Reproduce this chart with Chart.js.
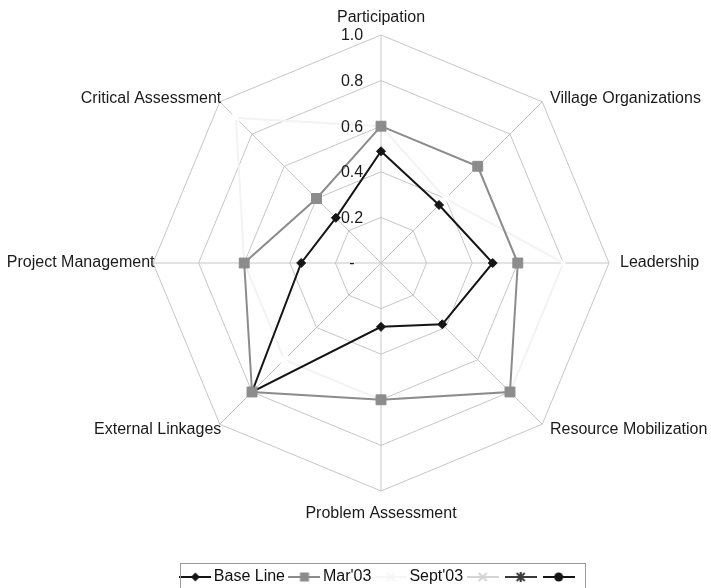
<!DOCTYPE html>
<html>
<head>
<meta charset="utf-8">
<script src="https://cdn.jsdelivr.net/npm/chart.js@4.4.1/dist/chart.umd.min.js"></script>
<style>
  html, body { margin: 0; padding: 0; background: #fff; }
</style>
</head>
<body>
<canvas id="radar" width="711" height="588"></canvas>
<script>
var categories = ["Participation", "Village Organizations", "Leadership", "Resource Mobilization",
  "Problem Assessment", "External Linkages", "Project Management", "Critical Assessment"];
var baseLine = [0.49, 0.36, 0.49, 0.38, 0.28, 0.80, 0.35, 0.28];
var mar03 = [0.60, 0.60, 0.60, 0.80, 0.60, 0.80, 0.60, 0.40];
var sept03 = [0.60, 0.40, 0.80, 0.80, 0.60, 0.60, 0.60, 0.90];
var tickValues = [0, 0.2, 0.4, 0.6, 0.8, 1.0];
var tickLabels = ["-", "0.2", "0.4", "0.6", "0.8", "1.0"];

var FONT = "Arial, 'Liberation Sans', sans-serif";
Chart.defaults.font.family = FONT;

// small line + marker pictures for the legend, like the spreadsheet legend
function legendSymbol(color, marker) {
  var c = document.createElement("canvas");
  c.width = 32; c.height = 12;
  var g = c.getContext("2d");
  var x = 16, y = 6;
  g.strokeStyle = color; g.fillStyle = color; g.lineWidth = 2;
  g.beginPath(); g.moveTo(0, y); g.lineTo(32, y); g.stroke();
  g.beginPath();
  if (marker === "diamond") {
    g.moveTo(x, y - 4.5); g.lineTo(x + 4.5, y); g.lineTo(x, y + 4.5); g.lineTo(x - 4.5, y);
    g.closePath(); g.fill();
  } else if (marker === "square") {
    g.fillRect(x - 4.5, y - 4.5, 9, 9);
  } else if (marker === "x" || marker === "star") {
    g.moveTo(x - 4, y - 4); g.lineTo(x + 4, y + 4);
    g.moveTo(x + 4, y - 4); g.lineTo(x - 4, y + 4);
    if (marker === "star") { g.moveTo(x, y - 5); g.lineTo(x, y + 5); }
    g.stroke();
  } else if (marker === "circle") {
    g.arc(x, y, 4.5, 0, Math.PI * 2); g.fill();
  }
  return c;
}

var symbols = [
  legendSymbol("#151515", "diamond"),
  legendSymbol("#8c8c8c", "square"),
  legendSymbol("#f6f6f6", "x"),
  legendSymbol("#d4d4d4", "x"),
  legendSymbol("#3a3a3a", "star"),
  legendSymbol("#151515", "circle")
];

var axisText = {
  id: "axisText",
  beforeDatasetsDraw: function (chart) {
    var s = chart.scales.r, ctx = chart.ctx;
    ctx.save();
    ctx.font = "16px " + FONT;
    ctx.fillStyle = "#1a1a1a";
    ctx.textBaseline = "middle";
    categories.forEach(function (name, i) {
      var p = s.getPointPosition(i, s.drawingArea + 11);
      var dx = p.x - s.xCenter, dy = p.y - s.yCenter;
      var x = p.x, y = p.y;
      if (Math.abs(dx) < 1) {
        ctx.textAlign = "center";
        y += dy < 0 ? -6 : 12;
      } else {
        y -= dy * (dy < 0 ? 0.028 : 0.014);
        if (dx > 0) {
          ctx.textAlign = "left";
        } else {
          // left-hand labels sit right against the outer ring
          ctx.textAlign = "right";
          x = s.getPointPosition(i, s.drawingArea).x + 1.5;
        }
      }
      ctx.fillText(name, x, y);
    });
    ctx.restore();
  },
  afterDatasetsDraw: function (chart) {
    var s = chart.scales.r, ctx = chart.ctx;
    ctx.save();
    ctx.font = "16px " + FONT;
    ctx.fillStyle = "#1a1a1a";
    ctx.textAlign = "center";
    ctx.textBaseline = "middle";
    tickValues.forEach(function (v, i) {
      ctx.fillText(tickLabels[i], s.xCenter - 29, s.yCenter - s.getDistanceFromCenterForValue(v) + 1);
    });
    ctx.restore();
  }
};

var legendBox = {
  id: "legendBox",
  afterDraw: function (chart) {
    var hb = chart.legend.legendHitBoxes;
    if (!hb || !hb.length) return;
    var ctx = chart.ctx;
    var first = hb[0], last = hb[hb.length - 1];
    var x0 = Math.round(first.left - 5), x1 = Math.round(last.left + last.width + 8);
    var y0 = Math.round(first.top - 6);
    ctx.save();
    ctx.strokeStyle = "#9a9a9a";
    ctx.lineWidth = 1;
    ctx.strokeRect(x0 + 0.5, y0 + 0.5, x1 - x0, 40);
    ctx.restore();
  }
};

new Chart(document.getElementById("radar"), {
  type: "radar",
  data: {
    labels: categories,
    datasets: [
      { label: "Base Line", data: baseLine, order: 2, fill: false,
        borderColor: "#151515", backgroundColor: "#151515", borderWidth: 2,
        pointStyle: "rectRot", pointRadius: 4.5, pointBorderWidth: 1 },
      { label: "Mar'03", data: mar03, order: 1, fill: false,
        borderColor: "#8c8c8c", backgroundColor: "#8c8c8c", borderWidth: 2,
        pointStyle: "rect", pointRadius: 7, pointBorderWidth: 1 },
      { label: "Sept'03", data: sept03, order: 3, fill: false,
        borderColor: "#f3f3f3", backgroundColor: "#ffffff", borderWidth: 2,
        pointStyle: "crossRot", pointRadius: 5, pointBorderColor: "#ffffff", pointBorderWidth: 2.5 },
      { label: "", data: [], order: 4, fill: false, borderColor: "#d4d4d4", pointStyle: "crossRot" },
      { label: "", data: [], order: 5, fill: false, borderColor: "#3a3a3a", pointStyle: "star" },
      { label: "", data: [], order: 6, fill: false, borderColor: "#151515", pointStyle: "circle" }
    ]
  },
  options: {
    responsive: false,
    animation: false,
    devicePixelRatio: 1,
    events: [],
    layout: { padding: { left: 153, right: 102, top: 6, bottom: -7 } },
    scales: {
      r: {
        min: 0,
        max: 1,
        ticks: { stepSize: 0.2, display: false },
        pointLabels: { display: false },
        grid: { color: "#c6c6c6", lineWidth: 1 },
        angleLines: { color: "#c6c6c6", lineWidth: 1 }
      }
    },
    plugins: {
      tooltip: { enabled: false },
      legend: {
        position: "bottom",
        fullSize: false,
        title: { display: true, text: "", font: { size: 10, lineHeight: 1 }, padding: 15 },
        labels: {
          usePointStyle: true,
          pointStyleWidth: 21,
          boxHeight: 12,
          padding: 9,
          color: "#111",
          font: { size: 16, family: FONT },
          sort: function (a, b) { return a.datasetIndex - b.datasetIndex; },
          generateLabels: function (chart) {
            var items = Chart.defaults.plugins.legend.labels.generateLabels(chart);
            items.forEach(function (it) { it.pointStyle = symbols[it.datasetIndex]; });
            return items;
          }
        }
      }
    }
  },
  plugins: [axisText, legendBox]
});
</script>
</body>
</html>
